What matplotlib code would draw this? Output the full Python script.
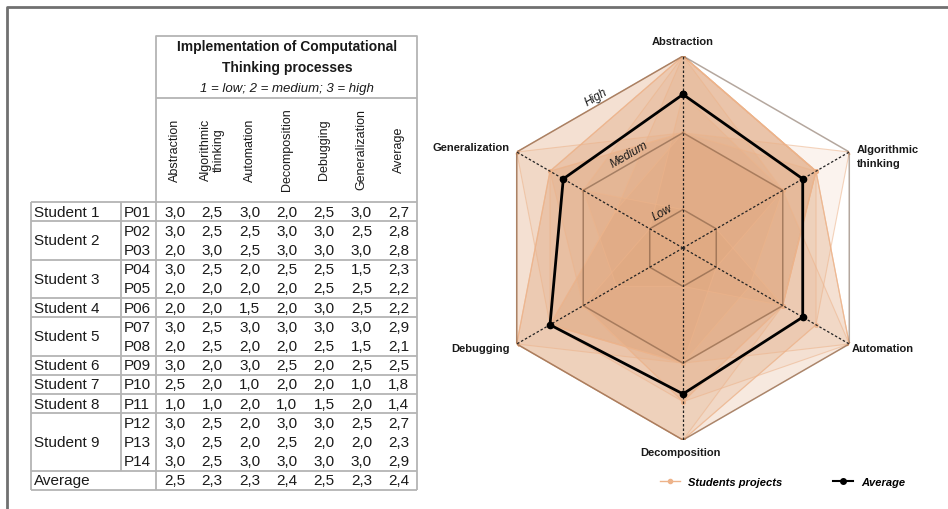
import numpy as np
import matplotlib
matplotlib.use("Agg")
import matplotlib.pyplot as plt
from matplotlib.lines import Line2D

plt.rcParams['font.family'] = ['Liberation Sans', 'DejaVu Sans']

criteria = ['Abstraction', 'Algorithmic thinking', 'Automation',
            'Decomposition', 'Debugging', 'Generalization']
header_labels = ['Abstraction', 'Algorithmic\nthinking', 'Automation',
                 'Decomposition', 'Debugging', 'Generalization', 'Average']
students = ['Student 1', 'Student 2', 'Student 3', 'Student 4', 'Student 5',
            'Student 6', 'Student 7', 'Student 8', 'Student 9']
projects_per_student = [1, 2, 2, 1, 2, 1, 1, 1, 3]
projects = ['P01', 'P02', 'P03', 'P04', 'P05', 'P06', 'P07',
            'P08', 'P09', 'P10', 'P11', 'P12', 'P13', 'P14']
scores = [
    [3.0, 2.5, 3.0, 2.0, 2.5, 3.0],
    [3.0, 2.5, 2.5, 3.0, 3.0, 2.5],
    [2.0, 3.0, 2.5, 3.0, 3.0, 3.0],
    [3.0, 2.5, 2.0, 2.5, 2.5, 1.5],
    [2.0, 2.0, 2.0, 2.0, 2.5, 2.5],
    [2.0, 2.0, 1.5, 2.0, 3.0, 2.5],
    [3.0, 2.5, 3.0, 3.0, 3.0, 3.0],
    [2.0, 2.5, 2.0, 2.0, 2.5, 1.5],
    [3.0, 2.0, 3.0, 2.5, 2.0, 2.5],
    [2.5, 2.0, 1.0, 2.0, 2.0, 1.0],
    [1.0, 1.0, 2.0, 1.0, 1.5, 2.0],
    [3.0, 2.5, 2.0, 3.0, 3.0, 2.5],
    [3.0, 2.5, 2.0, 2.5, 2.0, 2.0],
    [3.0, 2.5, 3.0, 3.0, 3.0, 3.0],
]
project_avg = [2.7, 2.8, 2.8, 2.3, 2.2, 2.2, 2.9, 2.1, 2.5, 1.8, 1.4, 2.7, 2.3, 2.9]
criteria_avg = [2.5, 2.3, 2.3, 2.4, 2.5, 2.3]
overall_avg = 2.4
levels = [1, 2, 3]
level_names = ['Low', 'Medium', 'High']

TXT = '#1a1a1a'
GRID = '#b4b4b4'


def fmt(v):
    return f"{v:.1f}".replace('.', ',')


fig = plt.figure(figsize=(9.48, 5.10), dpi=100)
bg = fig.add_axes([0, 0, 1, 1])
bg.set_xlim(0, 948)
bg.set_ylim(510, 0)
bg.axis('off')

# outer frame
bg.plot([7, 7, 948], [510, 8, 8], color='#707070', lw=2, solid_capstyle='butt')

# ----- table -----
x_left, x_stud, x_proj, x_right = 31, 121, 156, 417
y_head_top, y_div, row_top, rh = 37, 99, 203, 19.2
col_x = [175 + i * 37.3 for i in range(7)]
n_rows = len(projects) + 1
y_bottom = row_top + n_rows * rh

line_kw = dict(color=GRID, lw=1.3, solid_capstyle='butt')
bg.plot([x_proj, x_proj, x_right, x_right], [row_top, y_head_top, y_head_top, row_top], **line_kw)
bg.plot([x_proj, x_right], [y_div, y_div], **line_kw)
bg.plot([x_left, x_left], [row_top, y_bottom], **line_kw)
bg.plot([x_stud, x_stud], [row_top, y_bottom - rh], **line_kw)
bg.plot([x_proj, x_proj], [row_top, y_bottom], **line_kw)
bg.plot([x_right, x_right], [row_top, y_bottom], **line_kw)
bg.plot([x_left, x_right], [row_top, row_top], **line_kw)
bg.plot([x_left, x_right], [y_bottom, y_bottom], **line_kw)

bg.text(287, 47, 'Implementation of Computational', ha='center', va='center',
        fontsize=10, fontweight='bold', color=TXT)
bg.text(287, 68, 'Thinking processes', ha='center', va='center',
        fontsize=10, fontweight='bold', color=TXT)
bg.text(287, 89, '1 = low; 2 = medium; 3 = high', ha='center', va='center',
        fontsize=9.5, style='italic', color=TXT)
for x, lab in zip(col_x, header_labels):
    bg.text(x, 150, lab, rotation=90, ha='center', va='center',
            fontsize=9, color=TXT, linespacing=1.1)

r = 0
for stud, n in zip(students, projects_per_student):
    y0 = row_top + r * rh
    bg.text(34, y0 + n * rh / 2, stud, ha='left', va='center', fontsize=11, color=TXT)
    for k in range(n):
        i = r + k
        yc = y0 + (k + 0.5) * rh
        bg.text(124, yc, projects[i], ha='left', va='center', fontsize=11, color=TXT)
        vals = scores[i] + [project_avg[i]]
        for x, v in zip(col_x, vals):
            bg.text(x, yc, fmt(v), ha='center', va='center', fontsize=11, color=TXT)
    r += n
    bg.plot([x_left, x_right], [row_top + r * rh] * 2, **line_kw)

yc = row_top + (r + 0.5) * rh
bg.text(34, yc, 'Average', ha='left', va='center', fontsize=11, color=TXT)
for x, v in zip(col_x, criteria_avg + [overall_avg]):
    bg.text(x, yc, fmt(v), ha='center', va='center', fontsize=11, color=TXT)

# ----- radar -----
R, cx, cy = 192, 683, 249
pax = fig.add_axes([(cx - R) / 948, (510 - cy - R) / 510, 2 * R / 948, 2 * R / 510],
                   projection='polar')
pax.set_theta_zero_location('N')
pax.set_theta_direction(-1)
pax.set_ylim(0.5, 3)
pax.grid(False)
pax.set_xticks([])
pax.set_yticks([])
pax.spines['polar'].set_visible(False)
pax.patch.set_alpha(0)

theta = np.linspace(0, 2 * np.pi, len(criteria), endpoint=False)
theta_c = np.append(theta, theta[0])

for row in scores:
    vals = row + row[:1]
    pax.fill(theta_c, vals, color='#DC9A6A', alpha=0.11, lw=0, zorder=1)
    pax.plot(theta_c, vals, color='#EDB38A', lw=0.8, alpha=0.55,
             marker='o', ms=2.5, zorder=2)

for lvl in levels:
    pax.plot(theta_c, [lvl] * len(theta_c), color='#5a3c28', alpha=0.45,
             lw=1.1, zorder=3)

for t in theta:
    pax.plot([t, t], [0.5, 3], color='#222222', ls=(0, (2, 1.6)), lw=0.9, zorder=3)

pax.plot(theta_c, criteria_avg + criteria_avg[:1], color='black', lw=2,
         marker='o', ms=4.5, zorder=5)

for lvl, name in zip(levels, level_names):
    rr = 0.5 + (lvl - 0.5) * np.cos(np.pi / 6) + 0.11
    pax.text(np.deg2rad(330), rr, name, rotation=30, ha='center', va='center',
             rotation_mode='anchor', fontsize=8.5, style='italic', color=TXT, zorder=6)

lab_kw = dict(fontsize=8, fontweight='bold', color=TXT, va='center')
bg.text(683, 42, 'Abstraction', ha='center', **lab_kw)
bg.text(857, 157, 'Algorithmic\nthinking', ha='left', linespacing=1.6, **lab_kw)
bg.text(852, 349, 'Automation', ha='left', **lab_kw)
bg.text(681, 453, 'Decomposition', ha='center', **lab_kw)
bg.text(510, 349, 'Debugging', ha='right', **lab_kw)
bg.text(510, 148, 'Generalization', ha='right', **lab_kw)

handles = [Line2D([], [], color='#EDB38A', lw=1, marker='o', ms=3),
           Line2D([], [], color='black', lw=1.5, marker='o', ms=4)]
fig.legend(handles, ['Students projects', 'Average'], loc='center left',
           bbox_to_anchor=(660 / 948, 1 - 483 / 510), ncol=2, frameon=False,
           borderpad=0, borderaxespad=0, handlelength=1.8, handletextpad=0.7,
           columnspacing=4.6,
           prop=dict(family='Liberation Sans', size=8, weight='bold', style='italic'))

fig.savefig('out.png', dpi=100)
